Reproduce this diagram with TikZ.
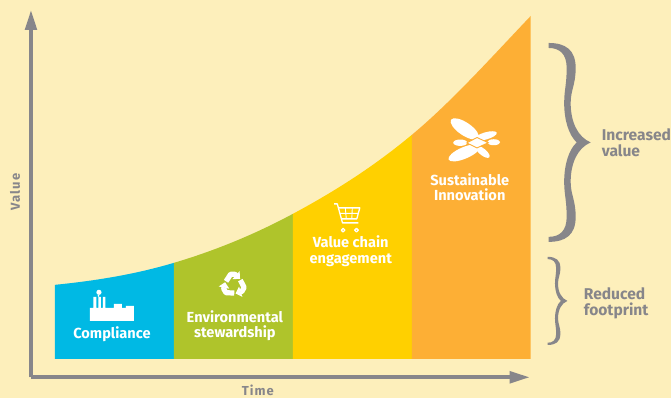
\documentclass[tikz,border=0pt]{standalone}
\usepackage{fontspec}
\setmainfont{Fira Sans}
\definecolor{pagecream}{RGB}{253, 239, 187}
\definecolor{axisgray}{RGB}{135, 134, 138}
\definecolor{stageblue}{RGB}{0, 185, 228}
\definecolor{stagegreen}{RGB}{175, 196, 43}
\definecolor{stageyellow}{RGB}{255, 208, 0}
\definecolor{stageorange}{RGB}{253, 175, 53}
\usetikzlibrary{arrows.meta}
\tikzset{
  stagelabel/.style={font=\fontsize{14.6}{15.5}\selectfont\bfseries, text=white, align=center, inner sep=0pt},
  sidelabel/.style={font=\fontsize{15.6}{16}\selectfont\bfseries, text=axisgray, align=left, anchor=west, inner sep=0pt},
  axislabel/.style={font=\fontsize{13}{13}\selectfont\bfseries\addfontfeatures{LetterSpace=8}, text=axisgray, inner sep=0pt},
  axisline/.style={line width=3.6pt, axisgray, -{Triangle[length=20pt, width=11.5pt]}},
  carticon/.style={draw=white, line width=1.3pt, line join=round},
  recycleicon/.style={white, line width=5.2pt, line join=round, -{Triangle[length=5.5pt, width=10.5pt]}},
  starpetal/.style={fill=white},
  starcore/.style={fill=white, draw=stageorange, line width=0.9pt}
}
\newcommand{\bracepath}{
  (0,0) .. controls (17,0) and (27,7) .. (27,25) .. controls (27,42) and (22,47) .. (22,60)
  .. controls (22,79) and (29,94) .. (42,99.5) .. controls (29,105) and (22,120) .. (22,139)
  .. controls (22,152) and (27,157) .. (27,174) .. controls (27,192) and (17,199) .. (0,199)
  -- (0,194) .. controls (11,194) and (18,188) .. (18,174) .. controls (18,157) and (15.5,152) .. (15.5,139)
  .. controls (15.5,122) and (20,107) .. (28,99.5) .. controls (20,92) and (15.5,77) .. (15.5,60)
  .. controls (15.5,47) and (18,42) .. (18,25) .. controls (18,11) and (11,5) .. (0,5) -- cycle
}
\begin{document}
\begin{tikzpicture}[x=1pt, y=-1pt]
  % Page
  \fill[pagecream] (0,0) rectangle (671,398);

  % Stages under the curve
  \fill[stageblue] (55,359) -- (55,285) .. controls (94.67,281) and (134.33,274.8) .. (174,263) -- (174,359) -- cycle;
  \fill[stagegreen] (174,359) -- (174,263) .. controls (213.67,251.2) and (253.33,235.3) .. (293,214) -- (293,359) -- cycle;
  \fill[stageyellow] (293,359) -- (293,214) .. controls (332.67,192.7) and (372.33,168) .. (412,135) -- (412,359) -- cycle;
  \fill[stageorange] (412,359) -- (412,135) .. controls (451.67,102) and (491.33,57.7) .. (531,16) -- (531,359) -- cycle;

  % Axes
  \coordinate (origin) at (31,377.5);
  \coordinate (valuetip) at (31,10);
  \coordinate (timetip) at (530,377.5);
  \draw[axisline] (origin) -- (valuetip);
  \draw[axisline] (origin) -- (timetip);
  \node[axislabel, rotate=90] (valuelabel) at (15,192) {Value};
  \node[axislabel] (timelabel) at (258,390.5) {Time};

  % Stage labels
  \node[stagelabel] (compliance) at (112,334) {Compliance};
  \node[stagelabel] (stewardship) at (235,326) {Environmental\\stewardship};
  \node[stagelabel] (valuechain) at (351,251.5) {Value chain\\engagement};
  \node[stagelabel] (innovation) at (470,187.5) {Sustainable\\Innovation};

  % Factory
  \fill[white] (90,321) -- (90,308) -- (93.5,308) -- (93.5,297) -- (96.5,297) -- (96.5,308)
    -- (98.5,308) -- (98.5,297) -- (101,297) -- (101,308) -- (103,308) -- (103,297) -- (105.5,297) -- (105.5,308)
    -- (114,308) -- (114,304) -- (122,304) -- (122,308) -- (126,308) -- (126,306) -- (134,306) -- (134,321) -- cycle;
  \fill[white] (99,292.5) circle (2.6);
  \fill[white] (98.5,296) circle (1);

  % Recycling arrows
  \foreach \turn in {0,120,240} {
    \draw[recycleicon, shift={(233.7,285)}, rotate=\turn] (-7.5,-3.5) -- (-3,-10.5) -- (1.5,-10.5) -- (6.5,-6);
  }

  % Cart
  \draw[carticon] (334.3,204) -- (337.5,204) -- (342.7,223) -- (358.7,223);
  \draw[carticon] (338.8,208) -- (360,208) -- (357,219) -- (341.6,219);
  \draw[carticon, line width=0.9pt] (340,213.5) -- (358.6,213.5) (345.5,208) -- (346.5,219) (352.5,208) -- (352,219);
  \draw[carticon] (343.3,230.3) circle (1.8);
  \draw[carticon] (356.7,230.3) circle (1.8);

  % Star
  \fill[starpetal, rotate around={-34:(465,129)}] (465,129) ellipse (16.5 and 6.5);
  \fill[starpetal, rotate around={23:(464.5,153)}] (464.5,153) ellipse (17 and 5.8);
  \fill[starpetal, rotate around={16:(486,136)}] (486,136) ellipse (11.5 and 3.6);
  \fill[starpetal, rotate around={-39:(483,152)}] (483,152) ellipse (8.5 and 3.4);
  \fill[starpetal] (460.5,142.8) ellipse (7 and 3.2);
  \fill[starpetal] (494,142.3) ellipse (6.5 and 3);
  \filldraw[starcore] (467,143) -- (477.3,137.6) -- (488.5,142.8) -- (477.3,148) -- cycle;

  % Braces
  \begin{scope}[shift={(549,43)}]
    \fill[axisgray] \bracepath;
  \end{scope}
  \begin{scope}[shift={(548,257)}, xscale=0.47, yscale=0.443]
    \fill[axisgray] \bracepath;
  \end{scope}
  \node[sidelabel] (increased) at (602,143) {Increased\\value};
  \node[sidelabel] (reduced) at (584,303) {Reduced\\footprint};
\end{tikzpicture}
\end{document}
